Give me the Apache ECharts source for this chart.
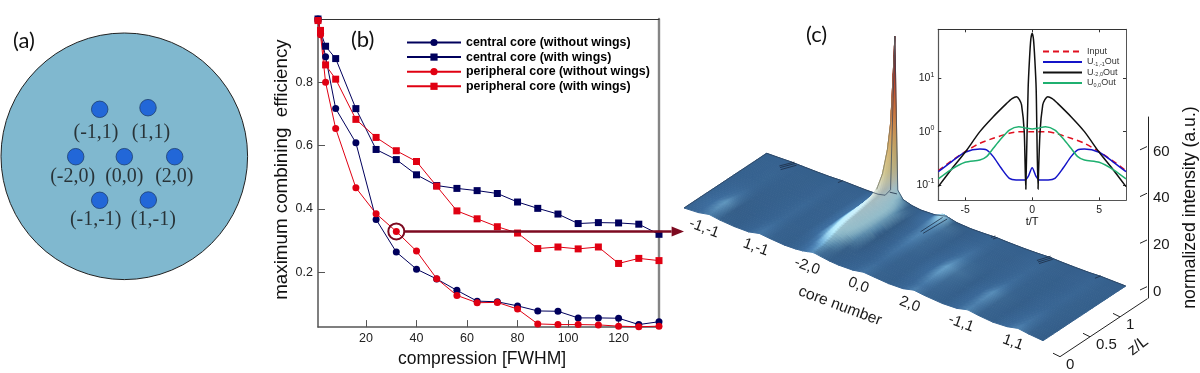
<!DOCTYPE html>
<html><head><meta charset="utf-8">
<style>html,body{margin:0;padding:0;background:#fff}#c{width:1200px;height:373px}</style>
<script src="https://cdn.jsdelivr.net/npm/echarts@6/dist/echarts.min.js"></script>
</head><body><div id="c"></div>
<script>
// ---------- panel (a) ----------
const fibreDisk = [[124.3,156.3]];
const coreX = [99.7,148,75.7,124.3,174.7,99.7,148.3];
const coreY = [109.3,107.7,156.7,156.7,156.7,200.3,200];
const coreNames = ['(-1,1)','(1,1)','(-2,0)','(0,0)','(2,0)','(-1,-1)','(1,-1)'];
const coreNameX = [96,151,72.7,124.3,174.3,95.7,153.3];
const coreNameY = [132.7,132.3,177,177,177,220,220];

// ---------- panel (b) ----------
const compression = [1,2,4,8,16,24,32,40,48,56,64,72,80,88,96,104,112,120,128,136];
const centralNoWings = [1.0,.955,.881,.717,.609,.367,.264,.21,.179,.143,.109,.107,.094,.078,.077,.056,.056,.055,.035,.044];
const centralWings   = [1.0,.96,.914,.875,.717,.588,.556,.508,.474,.465,.458,.449,.422,.402,.384,.354,.357,.356,.352,.32];
const periphNoWings  = [.995,.95,.80,.654,.467,.385,.329,.267,.18,.127,.104,.105,.084,.037,.035,.035,.034,.03,.028,.03];
const periphWings    = [.995,.964,.855,.81,.683,.626,.584,.55,.472,.394,.369,.344,.324,.275,.28,.274,.28,.228,.244,.237];
const bTicksX = [20,40,60,80,100,120];
const bTicksY = [.2,.4,.6,.8];
const arrowPath = [[32,.329],[141,.329],[145.9,.329]];

// ---------- inset of panel (c) ----------
const tInput = [-7,-6.1,-5,-3.9,-2.9,-1.7,-1,0,1,1.7,2.9,3.9,5,6.1,7];
const logInput = [-.73,-.563,-.375,-.218,-.124,-.03,0,0,0,-.03,-.124,-.218,-.375,-.563,-.73];
const tBlue = [-7,-6,-5,-3.9,-3.4,-2.9,-2.3,-1.7,-1.2,-.55,-.3,0,.3,.55,1.2,1.7,2.3,2.9,3.4,3.9,5,6,7];
const logBlue = [-.75,-.56,-.387,-.325,-.343,-.468,-.687,-.875,-.906,-.906,-.844,-.675,-.844,-.906,-.906,-.875,-.687,-.468,-.343,-.325,-.387,-.56,-.75];
const tBlack = [-7,-6,-5,-3.9,-2.9,-1.9,-1.5,-1.16,-.95,-.79,-.59,-.47,-.44,-.3,-.2,-.1,0,.1,.2,.3,.44,.47,.59,.79,.95,1.16,1.5,1.9,2.9,3.9,5,6,7];
const logBlack = [-1.03,-.7,-.387,0,.28,.53,.62,.656,.6,.5,0,-1.08,-1.08,.8,1.35,1.73,1.846,1.73,1.35,.8,-1.08,-1.08,0,.5,.6,.656,.62,.53,.28,0,-.387,-.7,-1.03];
const tGreen = [-7,-6.1,-5,-3.9,-3.4,-2.9,-2.4,-1.7,-1,-.4,0,.4,1,1.7,2.4,2.9,3.4,3.9,5,6.1,7];
const logGreen = [-.887,-.72,-.575,-.531,-.468,-.312,-.156,.03,.094,.064,.05,.064,.094,.03,-.156,-.312,-.468,-.531,-.575,-.72,-.887];
const insetTicksX = [-5,0,5];
const insetTicksY = [-1,0,1];

// ---------- surface of panel (c): intensity read at core position u, propagation v ----------
const surfaceU = [0,.04,.07,.10,.14, .18,.21,.24,.28, .31,.33,.345,.357,.365,.38,.405,.43, .47,.5,.53,.57, .61,.64,.67,.72, .76,.79,.82,.86, .90,.93,.96,1];
const surfaceV = [0,.1,.2,.3,.4,.5,.6,.7,.78,.85,.91,.95,.98,1];
const surfaceH = [
 [0,.3,1.2,.5,0, 0,1,.5,0, .1,.4,.9,1.3,1.3,.9,.3,0, .1,.9,.5,0, .1,1.2,.6,0, .2,1.3,.6,0, .3,1.3,.6,0],
 [0,.5,1.6,.5,0, 0,.8,.4,0, .1,.5,1.2,1.8,1.8,1.2,.4,0, 0,.7,.4,0, .1,1,.6,0, .2,1.2,.6,0, .2,1,.5,0],
 [0,.5,1.8,.5,0, 0,.6,.3,0, .1,1,2.4,3,3,2.2,.8,.1, 0,.6,.3,0, .2,1.3,.8,0, .2,1.4,.7,0, .2,.8,.4,0],
 [0,.4,1.2,.3,0, 0,.5,.2,0, .3,1.8,3.6,4.5,4.5,3.6,1.6,.2, 0,.7,.4,0, .3,1.7,1,.1, .2,1.5,.8,0, .1,.6,.3,0],
 [0,.3,.8,.2,0, 0,.5,.2,0, .4,2.4,4.5,5.5,5.5,4.6,2,.3, .1,.9,.5,.1, .3,1.8,1.2,.1, .2,1.1,.6,0, .1,.4,.2,0],
 [0,.2,.5,.1,0, 0,.5,.2,0, .5,3,5.2,6.2,6,5,2.4,.3, .1,1,.7,.1, .3,1.4,.9,.1, .1,.7,.4,0, .1,.4,.2,0],
 [0,.1,.3,.1,0, 0,.4,.2,0, .6,3.2,5.8,7,6.8,5.4,2.4,.4, .2,1.2,.8,.1, .2,1,.6,.1, .1,.6,.3,0, 0,.4,.2,0],
 [0,.1,.3,.1,0, 0,.3,.1,0, .6,3.2,6.2,8,7.5,5.6,2.4,.4, .2,1.3,.9,.1, .2,.8,.4,.1, .1,.5,.3,0, 0,.3,.2,0],
 [0,.1,.3,.1,0, 0,.3,.1,0, .6,3,7,10,8,5.2,2.2,.3, .3,1.5,1,.1, .2,.6,.3,0, .1,.5,.3,0, 0,.3,.2,0],
 [0,.1,.2,.1,0, 0,.2,.1,0, .5,2.5,8,15,9,4.5,1.6,.3, .4,2,1.2,.1, .1,.4,.2,0, .1,.4,.2,0, 0,.3,.1,0],
 [0,.1,.2,.1,0, 0,.2,.1,0, .4,2,7,24,8,3.5,1.2,.2, .5,3,1.2,.1, .1,.4,.2,0, .1,.4,.2,0, 0,.3,.1,0],
 [0,.1,.2,.1,0, 0,.2,.1,0, .3,1.5,6,35,7,3,1,.2, .5,3.5,1,.1, .1,.4,.2,0, .1,.4,.2,0, 0,.3,.1,0],
 [0,.1,.2,.1,0, 0,.2,.1,0, .2,1,5,55,6,2.2,.8,.2, .4,2.5,.6,.1, .1,.4,.2,0, .1,.4,.2,0, 0,.3,.1,0],
 [0,.1,.2,.1,0, 0,.2,.1,0, .1,.8,4,70.6,5,1.8,.6,.1, .3,1.5,.4,0, .1,.3,.1,0, .1,.3,.1,0, 0,.2,.1,0]
];
// small creases near the back of the surface: [u,v,h] pairs
const creases = [
 [[.0635,.885,.2],[.08,1,.2]],[[.0605,.89,.6],[.077,1,.6]],[[.0665,.88,-.4],[.083,1,-.4]],
 [[.2076,.96,.2],[.211,1,.2]],
 [[.345,.99,3.2],[.365,.99,3.6]],
 [[.49,.734,.5],[.49,1,.4]],[[.497,.734,.2],[.505,.99,.8]],
 [[.6386,.964,.4],[.642,1,.4]],[[.633,.964,.8],[.637,1,.8]],
 [[.781,.89,.4],[.794,1,.4]],[[.778,.89,.9],[.791,1,.9]],[[.784,.89,-.1],[.797,1,-.1]],
 [[.926,.949,.3],[.93,1,.3]]
];
const coreAxisU = [.07,.214,.357,.5,.643,.786,.93];
const coreAxisNames = ['-1,-1','1,-1','-2,0','0,0','2,0','-1,1','1,1'];
const zTicks = [0,.5,1];
const intensityTicks = [0,20,40,60];

// colours by height
const cmap = [[-1,[40,76,118]],[0,[53,96,141]],[.5,[57,102,148]],[1,[66,114,160]],[2,[104,160,198]],[3,[146,198,222]],[4,[170,218,234]],[7,[190,220,228]],
 [9,[198,208,200]],[15,[200,190,140]],[25,[200,165,100]],[40,[200,110,55]],[55,[168,50,32]],[71,[105,28,24]]];
function colorOf(h,shade){
  let a=cmap[0],b=cmap[cmap.length-1];
  if(h<=a[0]) b=a; else if(h<b[0]) { for(let i=0;i<cmap.length-1;i++){ if(h>=cmap[i][0]&&h<=cmap[i+1][0]){a=cmap[i];b=cmap[i+1];break;} } }
  else a=b;
  const t=(a===b)?0:(h-a[0])/(b[0]-a[0]);
  const c=[0,1,2].map(i=>Math.min(255,Math.round((a[1][i]+(b[1][i]-a[1][i])*t)*shade)));
  return 'rgb('+c.join(',')+')';
}
function project(u,v,h){ return [684+u*359+v*82.7, 208+u*132.7-v*54.7-h*2.33]; }
function shadeAt(j,i){
  const l=Math.max(0,j-1), r=Math.min(surfaceU.length-1,j+1);
  const s=(surfaceH[i][r]-surfaceH[i][l])/(surfaceU[r]-surfaceU[l]);
  return 1+Math.max(-.14,Math.min(.1,s*.003));
}
const STRIPS=4;
const quads=[];
for(let i=surfaceV.length-2;i>=0;i--) for(let k=STRIPS-1;k>=0;k--) for(let j=0;j<surfaceU.length-1;j++) quads.push([i,j,k]);

function renderQuad(params,api){
  const i=api.value(0), j=api.value(1), k=api.value(2);
  const f0=k/STRIPS, f1=(k+1)/STRIPS, fm=(f0+f1)/2;
  const H=(c,f)=>surfaceH[i][c]*(1-f)+surfaceH[i+1][c]*f;
  const V=f=>surfaceV[i]*(1-f)+surfaceV[i+1]*f;
  const P=(c,f)=>api.coord(project(surfaceU[c],V(f),H(c,f)));
  const S=(c,f)=>shadeAt(c,i)*(1-f)+shadeAt(c,i+1)*f;
  const pts=[P(j,f0),P(j+1,f0),P(j+1,f1),P(j,f1)];
  const L=P(j,fm), R=P(j+1,fm), hL=H(j,fm), hR=H(j+1,fm), sL=S(j,fm), sR=S(j+1,fm);
  const n=Math.abs(hR-hL)>2?8:1, stops=[];
  for(let q=0;q<=n;q++){const t=q/n; stops.push({offset:t,color:colorOf(hL+(hR-hL)*t,sL+(sR-sL)*t)});}
  const grad=new echarts.graphic.LinearGradient(L[0],L[1],R[0],R[1],stops,true);
  return {type:'polygon',shape:{points:pts},style:{fill:grad,stroke:grad,lineWidth:1,lineJoin:'round'},silent:true};
}
function renderSurfaceLines(params,api){
  const kids=[];
  const line=(pts,stroke,w)=>kids.push({type:'polyline',shape:{points:pts.map(p=>api.coord(project(p[0],p[1],p[2])))},style:{fill:'none',stroke,lineWidth:w}});
  line(surfaceU.map((u,j)=>[u,1,surfaceH[surfaceV.length-1][j]]),'#2c3f58',.7);
  line(surfaceV.map((v,i)=>[0,v,surfaceH[i][0]]),'#2c3f58',.7);
  line(surfaceV.map((v,i)=>[surfaceU[12],v,surfaceH[i][12]]).slice(8),'#6a6a62',.7);
  creases.forEach(c=>line(c,'#1c2c44',.8));
  coreAxisU.forEach((u,k)=>{
    const p=api.coord(project(u,0,0));
    kids.push({type:'text',x:p[0]-5,y:p[1]+11,rotation:-20.3*Math.PI/180,style:{text:coreAxisNames[k],fill:'#1a1a1a',font:'15px "Liberation Sans"',align:'center',verticalAlign:'middle'}});
  });
  const cn=api.coord([840,306]);
  kids.push({type:'text',x:cn[0],y:cn[1],rotation:-20.3*Math.PI/180,style:{text:'core number',fill:'#1a1a1a',font:'15.6px "Liberation Sans"',align:'center',verticalAlign:'middle'}});
  const zp=z=>[1060+z*60,356.7-z*39.8];
  const a0=api.coord(zp(0)), a1=api.coord(zp(1.46));
  kids.push({type:'line',shape:{x1:a0[0],y1:a0[1],x2:a1[0],y2:a1[1]},style:{stroke:'#222',lineWidth:1}});
  zTicks.forEach(z=>{
    const p=api.coord(zp(z));
    kids.push({type:'line',shape:{x1:p[0],y1:p[1],x2:p[0]-7,y2:p[1]-3.5},style:{stroke:'#222',lineWidth:1}});
    kids.push({type:'text',x:p[0]+6,y:p[1]+8,style:{text:String(z),fill:'#1a1a1a',font:'15px "Liberation Sans"',align:'left',verticalAlign:'middle'}});
  });
  const zl=api.coord([1138,346]);
  kids.push({type:'text',x:zl[0],y:zl[1],rotation:37*Math.PI/180,style:{text:'z/L',fill:'#1a1a1a',font:'16px "Liberation Sans"',align:'center',verticalAlign:'middle'}});
  return {type:'group',children:kids};
}
function renderIntensityTicks(params,api){
  const p=api.coord([0,api.value(0)]);
  return {type:'line',shape:{x1:p[0],y1:p[1]-5,x2:p[0]-7,y2:p[1]-1.7},style:{stroke:'#222',lineWidth:1}};
}
function renderArrow(params,api){
  const c=api.coord(arrowPath[0]), e=api.coord(arrowPath[1]), t=api.coord(arrowPath[2]);
  const col='#7d0a20';
  return {type:'group',children:[
    {type:'circle',shape:{cx:c[0],cy:c[1],r:8},style:{fill:'none',stroke:col,lineWidth:2}},
    {type:'line',shape:{x1:c[0]+8,y1:c[1],x2:e[0],y2:e[1]},style:{stroke:col,lineWidth:2.4}},
    {type:'polygon',shape:{points:[[e[0],e[1]-5],[t[0],t[1]],[e[0],e[1]+5]]},style:{fill:col}}
  ]};
}
const pairs=(x,y)=>x.map((v,i)=>[v,y[i]]);
const sans='"Liberation Sans"';
const navy='#00005c', red='#e00012';
const bSeries=(name,data,color,symbol)=>({name,type:'line',xAxisIndex:0,yAxisIndex:0,data:pairs(compression,data),
  symbol,symbolSize:7,showSymbol:true,lineStyle:{color,width:1},itemStyle:{color},z:3,clip:false});
const inSeries=(name,tv,lv,color,extra)=>({name,type:'line',xAxisIndex:2,yAxisIndex:2,data:pairs(tv,lv),symbol:'none',smooth:.25,
  lineStyle:Object.assign({color,width:1.5},extra||{}),itemStyle:{color},z:6});
const hidden=(o)=>Object.assign({show:false,type:'value'},o);

const chart=echarts.init(document.getElementById('c'),null,{width:1200,height:373});
chart.setOption({
  animation:false,backgroundColor:'#fff',
  title:[
    {text:'(a)',left:8,top:25,textStyle:{fontFamily:'Lato',fontSize:22,fontWeight:'normal',color:'#111'}},
    {text:'(b)',left:346,top:24,textStyle:{fontFamily:'Lato',fontSize:22,fontWeight:'normal',color:'#111'}},
    {text:'(c)',left:801,top:19,textStyle:{fontFamily:'Lato',fontSize:22,fontWeight:'normal',color:'#111'}}
  ],
  legend:[
    {left:406,top:36,orient:'vertical',padding:0,itemWidth:54,itemHeight:9,itemGap:1.6,selectedMode:false,
     data:['central core (without wings)','central core (with wings)','peripheral core (without wings)','peripheral core (with wings)'],
     textStyle:{fontFamily:sans,fontSize:12.4,fontWeight:'bold',color:'#000',lineHeight:13}},
    {left:1042,top:46.5,orient:'vertical',padding:0,itemWidth:39,itemHeight:8,itemGap:.5,selectedMode:false,
     itemStyle:{opacity:0},
     data:['Input','U-1,-1Out','U-2,0Out','U0,0Out'],
     formatter:n=>{const m=n.match(/^U(.*)Out$/);return m?'{m|U}{s|'+m[1]+'}{m|Out}':'{m|'+n+'}';},
     textStyle:{fontFamily:sans,fontSize:9,color:'#333',lineHeight:10,rich:{
       m:{fontFamily:sans,fontSize:9,color:'#333',lineHeight:10},
       s:{fontFamily:sans,fontSize:5.5,color:'#333',verticalAlign:'bottom',lineHeight:10}}}}
  ],
  grid:[
    {left:318,top:19,width:341,height:311.7},
    {left:938.3,top:29.3,width:187.7,height:171},
    {left:0,top:0,width:1200,height:373},
    {left:1147,top:117,width:1,height:181}
  ],
  xAxis:[
    {type:'value',gridIndex:0,min:1,max:136,position:'bottom',splitLine:{show:false},
     axisLine:{onZero:false,lineStyle:{color:'#555',width:1.5}},
     axisTick:{inside:true,length:7,customValues:bTicksX,lineStyle:{color:'#555',width:1}},
     axisLabel:{customValues:bTicksX,color:'#222',fontFamily:sans,fontSize:12.5,margin:5},
     name:'compression [FWHM]',nameLocation:'middle',nameGap:19,nameTextStyle:{fontFamily:sans,fontSize:17.5,color:'#111',padding:[0,13,0,0]}},
    {type:'value',gridIndex:0,min:1,max:136,position:'top',splitLine:{show:false},axisTick:{show:false},axisLabel:{show:false},axisLine:{onZero:false,lineStyle:{color:'#333',width:1}}},
    {type:'value',gridIndex:1,min:-7,max:7,position:'bottom',splitLine:{show:false},
     axisLine:{onZero:false,lineStyle:{color:'#555',width:1.2}},
     axisTick:{inside:true,length:3,customValues:insetTicksX,lineStyle:{color:'#333'}},
     axisLabel:{customValues:insetTicksX,color:'#222',fontFamily:sans,fontSize:10.5,margin:4},
     name:'t/T',nameLocation:'middle',nameGap:12,nameTextStyle:{fontFamily:sans,fontSize:11,color:'#111'}},
    {type:'value',gridIndex:1,min:-7,max:7,position:'top',splitLine:{show:false},axisLabel:{show:false},
     axisLine:{onZero:false,lineStyle:{color:'#333',width:1}},axisTick:{inside:true,length:3,customValues:insetTicksX,lineStyle:{color:'#333'}}},
    hidden({gridIndex:2,min:0,max:1200}),
    hidden({gridIndex:3,min:0,max:1})
  ],
  yAxis:[
    {type:'value',gridIndex:0,min:.027,max:1,position:'left',splitLine:{show:false},
     axisLine:{onZero:false,lineStyle:{color:'#555',width:1.5}},
     axisTick:{inside:true,length:7,customValues:bTicksY,lineStyle:{color:'#555',width:1}},
     axisLabel:{customValues:bTicksY,color:'#222',fontFamily:sans,fontSize:12.5,margin:5,formatter:v=>v.toFixed(1)},
     name:'maximum combining  efficiency',nameLocation:'middle',nameGap:24,nameRotate:90,
     nameTextStyle:{fontFamily:sans,fontSize:18.8,color:'#111',padding:[0,0,0,7]}},
    {type:'value',gridIndex:0,min:.027,max:1,position:'right',splitLine:{show:false},axisTick:{show:false},axisLabel:{show:false},axisLine:{onZero:false,lineStyle:{color:'#858585',width:2.4}}},
    {type:'value',gridIndex:1,min:-1.287,max:1.919,position:'left',splitLine:{show:false},
     axisLine:{onZero:false,lineStyle:{color:'#555',width:1.2}},
     axisTick:{inside:true,length:3,customValues:insetTicksY,lineStyle:{color:'#333'}},
     axisLabel:{customValues:insetTicksY,margin:4,formatter:v=>'{b|10}{s|'+v+'}',color:'#222',
       rich:{b:{fontFamily:sans,fontSize:10.5,color:'#222',lineHeight:14},s:{fontFamily:sans,fontSize:7,color:'#222',verticalAlign:'top',lineHeight:14}}}},
    {type:'value',gridIndex:1,min:-1.287,max:1.919,position:'right',splitLine:{show:false},axisLabel:{show:false},
     axisLine:{onZero:false,lineStyle:{color:'#555',width:1}},axisTick:{inside:true,length:3,customValues:insetTicksY,lineStyle:{color:'#333'}}},
    hidden({gridIndex:2,min:0,max:373,inverse:true}),
    {type:'value',gridIndex:3,min:-2.7,max:74.8,position:'right',splitLine:{show:false},
     axisLine:{onZero:false,lineStyle:{color:'#222',width:1}},axisTick:{show:false},
     axisLabel:{customValues:intensityTicks,color:'#1a1a1a',fontFamily:sans,fontSize:15,margin:5},
     name:'normalized intensity (a.u.)',nameLocation:'middle',nameGap:33,nameRotate:90,
     nameTextStyle:{fontFamily:sans,fontSize:17.7,color:'#111'}}
  ],
  series:[
    {type:'scatter',name:'fibre',xAxisIndex:4,yAxisIndex:4,data:fibreDisk,symbolSize:246.6,silent:true,clip:false,z:1,
     itemStyle:{color:'#80b8cf',borderColor:'#222',borderWidth:1,opacity:1}},
    {type:'scatter',name:'cores',xAxisIndex:4,yAxisIndex:4,data:pairs(coreX,coreY),symbolSize:16.5,silent:true,z:2,
     itemStyle:{color:'#2267d8',borderColor:'#1d3d6e',borderWidth:.8,opacity:1}},
    {type:'scatter',name:'core names',xAxisIndex:4,yAxisIndex:4,silent:true,z:3,symbolSize:1,itemStyle:{color:'transparent'},
     data:coreNames.map((n,i)=>({name:n,value:[coreNameX[i],coreNameY[i]]})),
     label:{show:true,position:'inside',formatter:'{b}',fontFamily:'"Liberation Serif"',fontSize:20,color:'#111'}},
    bSeries('central core (without wings)',centralNoWings,navy,'circle'),
    bSeries('central core (with wings)',centralWings,navy,'rect'),
    bSeries('peripheral core (without wings)',periphNoWings,red,'circle'),
    bSeries('peripheral core (with wings)',periphWings,red,'rect'),
    {type:'custom',name:'surface',xAxisIndex:4,yAxisIndex:4,data:quads,renderItem:renderQuad,silent:true,clip:false,z:1,progressive:0,animation:false},
    {type:'custom',name:'surface lines',xAxisIndex:4,yAxisIndex:4,data:[[0,0]],renderItem:renderSurfaceLines,silent:true,clip:false,z:2,animation:false},
    {type:'custom',name:'intensity ticks',xAxisIndex:5,yAxisIndex:5,data:intensityTicks.map(v=>[v]),encode:{y:0},renderItem:renderIntensityTicks,silent:true,clip:false,z:2,animation:false},
    {type:'custom',name:'arrow',xAxisIndex:0,yAxisIndex:0,data:[[32,.329]],renderItem:renderArrow,silent:true,clip:false,z:5,animation:false},
    inSeries('Input',tInput,logInput,'#e01020',{type:[6,4]}),
    inSeries('U-1,-1Out',tBlue,logBlue,'#1414c8'),
    inSeries('U-2,0Out',tBlack,logBlack,'#111111'),
    inSeries('U0,0Out',tGreen,logGreen,'#1fb070')
  ]
});
</script></body></html>
